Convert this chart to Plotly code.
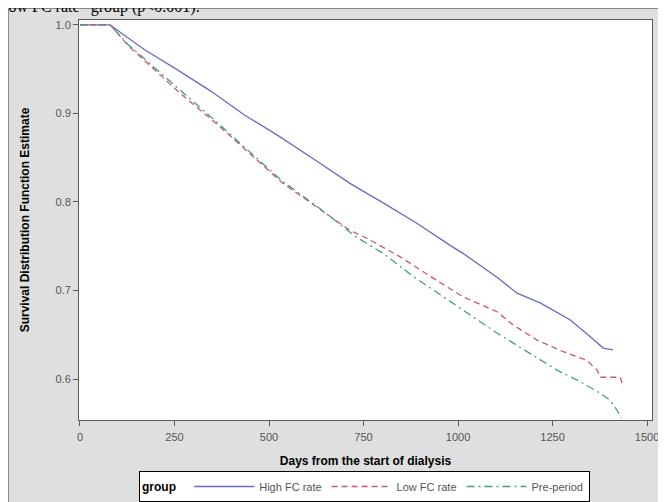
import plotly.graph_objects as go

# ---- data ----
days_high = [0, 80, 109, 171, 259, 347, 436, 524, 627, 714, 802, 891, 979, 1013, 1103, 1156, 1217, 1296, 1349, 1384, 1410]
surv_high = [1.0, 1.0, 0.991, 0.972, 0.949, 0.925, 0.898, 0.875, 0.846, 0.821, 0.799, 0.776, 0.751, 0.742, 0.715, 0.697, 0.686, 0.667, 0.648, 0.635, 0.633]

days_low = [0, 80, 127, 259, 365, 479, 537, 627, 714, 759, 847, 934, 1013, 1103, 1146, 1209, 1278, 1341, 1368, 1376, 1429, 1437]
surv_low = [1.0, 1.0, 0.977, 0.925, 0.887, 0.844, 0.821, 0.794, 0.768, 0.759, 0.738, 0.714, 0.693, 0.676, 0.661, 0.644, 0.631, 0.621, 0.610, 0.602, 0.602, 0.591]

days_pre = [0, 80, 127, 259, 365, 479, 537, 627, 732, 802, 881, 926, 1013, 1103, 1190, 1262, 1323, 1376, 1402, 1420, 1432]
surv_pre = [1.0, 1.0, 0.978, 0.929, 0.889, 0.845, 0.823, 0.795, 0.760, 0.742, 0.716, 0.703, 0.678, 0.652, 0.629, 0.610, 0.597, 0.584, 0.576, 0.565, 0.556]

series_names = ["High FC rate", "Low FC rate", "Pre-period"]
legend_title = "group"
x_ticks = [0, 250, 500, 750, 1000, 1250, 1500]
y_ticks = [0.6, 0.7, 0.8, 0.9, 1.0]
y_ticklabels = ["0.6", "0.7", "0.8", "0.9", "1.0"]

title_text = "low FC rate\u201d group (p<0.001)."

# ---- figure (the page body has an 8px margin, so the figure starts at page (8, 8)) ----
OFF = 8
W, H = 658, 494
ml, mr, mt, mb = 71, 14, 12, 82
pw, ph = W - ml - mr, H - mt - mb

fig = go.Figure()
fig.add_trace(go.Scatter(x=days_high, y=surv_high, mode="lines", name=series_names[0],
                         line=dict(color="#6A6AC4", width=1.3, dash="solid")))
fig.add_trace(go.Scatter(x=days_low, y=surv_low, mode="lines", name=series_names[1],
                         line=dict(color="#D0566A", width=1.3, dash="6px,4px")))
fig.add_trace(go.Scatter(x=days_pre, y=surv_pre, mode="lines", name=series_names[2],
                         line=dict(color="#3F9F8E", width=1.3, dash="8px,4px,2px,4px")))

def px_x(p):  # page pixel -> paper x
    return (p - OFF - ml) / pw

def px_y(p):  # page pixel -> paper y
    return 1 - (p - OFF - mt) / ph

shapes = [
    # grey panel with border on left and top
    dict(type="rect", xref="paper", yref="paper", layer="below",
         x0=px_x(8.5), x1=px_x(700), y0=px_y(540), y1=px_y(8.5),
         fillcolor="#DFDFDF", line=dict(color="#8A8A8A", width=1)),
    # white plot area
    dict(type="rect", xref="paper", yref="paper", layer="below",
         x0=0, x1=1, y0=0, y1=1, fillcolor="white", line=dict(width=0)),
]

axis_common = dict(showgrid=False, zeroline=False, showline=True, mirror=True,
                   linecolor="#5A5A5A", linewidth=1, ticks="outside", ticklen=5,
                   tickcolor="#5A5A5A", automargin=False,
                   tickfont=dict(family="Liberation Sans, Arial", size=11, color="#555555"))

legend_top = 471

fig.update_layout(
    width=W, height=H,
    margin=dict(l=ml, r=mr, t=mt, b=mb, autoexpand=False),
    paper_bgcolor="white",
    plot_bgcolor="rgba(0,0,0,0)",
    shapes=shapes,
    annotations=[
        dict(text=title_text, xref="paper", yref="paper",
             x=px_x(3), y=px_y(6.5), xanchor="left", yanchor="middle",
             showarrow=False, borderpad=0,
             font=dict(family="Liberation Serif, Times New Roman", size=16, color="black")),
        dict(text="<b>" + legend_title + "</b>", xref="paper", yref="paper",
             x=px_x(141), y=px_y(legend_top + 16), xanchor="left", yanchor="middle",
             showarrow=False, borderpad=0,
             font=dict(family="Liberation Sans, Arial", size=12, color="black")),
    ],
    xaxis=dict(range=[-2.6, 1513], tickvals=x_ticks, ticklabelstandoff=2,
               title=dict(text="<b>Days from the start of dialysis</b>", standoff=14,
                          font=dict(family="Liberation Sans, Arial", size=12, color="black")),
               **axis_common),
    yaxis=dict(range=[0.5537, 1.0056], tickvals=y_ticks, ticktext=y_ticklabels,
               title=dict(text="<b>Survival Distribution Function Estimate</b>", standoff=23,
                          font=dict(family="Liberation Sans, Arial", size=12, color="black")),
               **axis_common),
    legend=dict(orientation="h", x=px_x(364), xanchor="center", y=px_y(legend_top), yanchor="top",
                bgcolor="white", bordercolor="black", borderwidth=1, valign="middle",
                title=dict(text="\u00a0" * 13, side="left",
                           font=dict(family="Liberation Sans, Arial", size=11, color="black")),
                font=dict(family="Liberation Sans, Arial", size=11, color="#555555"),
                itemwidth=60, tracegroupgap=0),
    showlegend=True,
)

fig.write_html("out.html")
